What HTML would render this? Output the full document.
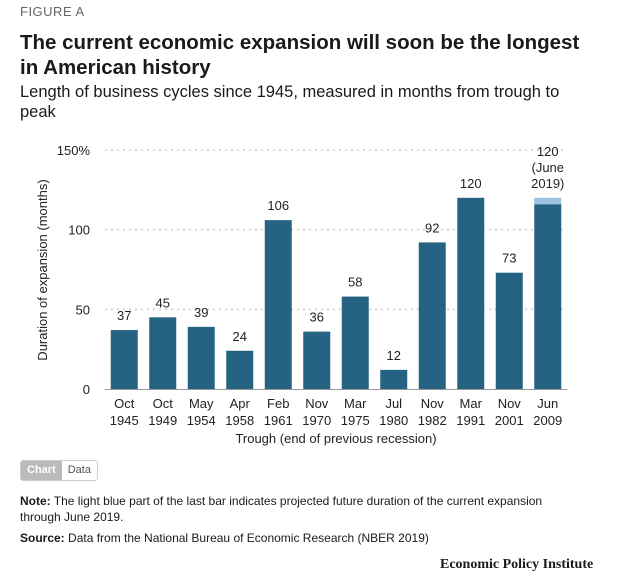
<!DOCTYPE html>
<html><head><meta charset="utf-8"><style>
body{margin:0;width:619px;height:580px;background:#fff;font-family:"Liberation Sans",sans-serif;color:#1a1a1a;position:relative;overflow:hidden}
.a{position:absolute}
</style></head><body>
<div class="a" style="left:20px;top:4px;font-size:13px;color:#666;letter-spacing:.5px">FIGURE A</div>
<div class="a" style="left:20px;top:30px;font-size:20.5px;font-weight:bold;line-height:25px;width:575px">The current economic expansion will soon be the longest in American history</div>
<div class="a" style="left:20px;top:82px;font-size:16.5px;line-height:20px;width:555px">Length of business cycles since 1945, measured in months from trough to peak</div>
<svg class="a" style="left:0;top:0" width="619" height="460">
<g id="g"></g>
<text x="47" y="270" transform="rotate(-90 47 270)" text-anchor="middle" font-size="13" fill="#222">Duration of expansion (months)</text>
<text x="336" y="443" text-anchor="middle" font-size="13" fill="#222">Trough (end of previous recession)</text>
</svg>
<div class="a" style="left:20px;top:460px;height:19px;border:1px solid #ccc;border-radius:3px;font-size:11px;display:flex;overflow:hidden">
<span style="background:#bbb;color:#fff;padding:3px 6px;font-weight:bold">Chart</span>
<span style="padding:3px 6px;color:#555">Data</span></div>
<div class="a" style="left:20px;top:493px;font-size:12px;line-height:16px;width:545px"><b>Note:</b> The light blue part of the last bar indicates projected future duration of the current expansion through June 2019.</div>
<div class="a" style="left:20px;top:531px;font-size:12px"><b>Source:</b> Data from the National Bureau of Economic Research (NBER 2019)</div>
<div class="a" style="left:440px;top:557px;font-size:14px;font-family:'Liberation Serif',serif;font-weight:bold">Economic Policy Institute</div>
<script>
const categories=[["Oct","1945"],["Oct","1949"],["May","1954"],["Apr","1958"],["Feb","1961"],["Nov","1970"],["Mar","1975"],["Jul","1980"],["Nov","1982"],["Mar","1991"],["Nov","2001"],["Jun","2009"]];
const actual=[37,45,39,24,106,36,58,12,92,120,73,116];
const projected=[0,0,0,0,0,0,0,0,0,0,0,4];
const labels=["37","45","39","24","106","36","58","12","92","120","73","120"];
const ticks=[0,50,100,150];
const NS="http://www.w3.org/2000/svg",g=document.getElementById('g');
const y=v=>389-v*(239/150),band=(567-105)/12,x=i=>105+band*i+band/2;
function el(t,a){const e=document.createElementNS(NS,t);for(const k in a)e.setAttribute(k,a[k]);g.appendChild(e);return e;}
ticks.forEach(t=>{
 if(t>0){const l=el('line',{x1:105,x2:567,y1:y(t),y2:y(t),stroke:'#d6d6d6','stroke-width':2,'stroke-dasharray':'2,4'});
 }
 const tx=el('text',{x:90,y:y(t)+5,'text-anchor':'end','font-size':13,fill:'#222'});tx.textContent=t===150?'150%':t;
 
});
actual.forEach((v,i)=>{
 const b=el('rect',{x:x(i)-13.5,y:y(v),width:27,height:y(0)-y(v),fill:'#266383'});
 
 const top=v+projected[i];
 if(projected[i]>0){const p=el('rect',{x:x(i)-13.5,y:y(top),width:27,height:y(v)-y(top),fill:'#9cc3e2'});
  }
 const lines=i===11?[labels[i],'(June','2019)']:[labels[i]];
 lines.forEach((s,j)=>{const t=el('text',{x:x(i),y:y(top)-10-(lines.length-1-j)*16,'text-anchor':'middle','font-size':13,fill:'#222'});t.textContent=s;
  });
 categories[i].forEach((s,j)=>{const t=el('text',{x:x(i),y:408+j*17,'text-anchor':'middle','font-size':13,fill:'#222'});t.textContent=s;
  });
});
const ax=el('line',{x1:105,x2:567,y1:389.5,y2:389.5,stroke:'#999','stroke-width':1});

</script>
</body></html>
